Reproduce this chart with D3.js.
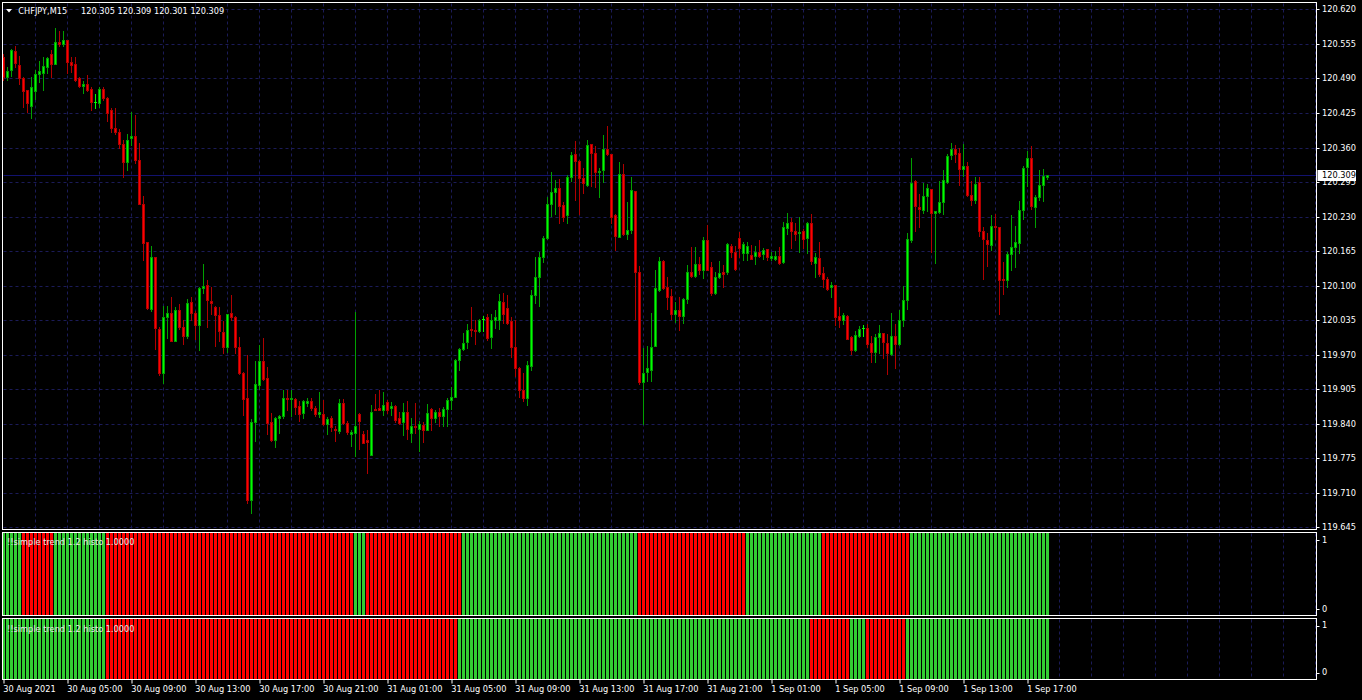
<!DOCTYPE html>
<html>
<head>
<meta charset="utf-8">
<script src="https://cdn.jsdelivr.net/npm/d3@7"></script>
<style>
html, body { margin: 0; padding: 0; background: #000; }
svg { display: block; }
</style>
</head>
<body>
<div id="chart"></div>
<script>
// ---- data ----
var symbol = "CHFJPY,M15",
    lastBarText = "120.305 120.309 120.301 120.309",
    bid = 120.309;

var opens = [120.530,120.492,120.506,120.541,120.515,120.490,120.468,120.439,120.467,120.498,120.501,120.511,120.536,120.518,120.559,120.555,120.562,120.521,120.517,120.490,
  120.476,120.479,120.471,120.445,120.443,120.471,120.453,120.431,120.397,120.390,120.366,120.332,120.377,120.382,120.337,120.254,120.182,120.056,120.154,120.019,
  119.935,120.041,120.049,119.996,120.054,120.022,120.005,120.069,120.049,120.025,120.095,120.101,120.071,120.060,120.044,120.012,119.984,120.049,120.041,119.984,
  119.935,119.888,119.696,119.844,119.912,119.958,119.926,119.844,119.810,119.850,119.854,119.889,119.887,119.887,119.874,119.860,119.879,119.883,119.870,119.858,
  119.858,119.839,119.850,119.831,119.826,119.879,119.842,119.820,119.823,119.858,119.820,119.809,119.782,119.868,119.869,119.866,119.880,119.870,119.874,119.850,
  119.844,119.863,119.823,119.836,119.831,119.838,119.828,119.868,119.850,119.863,119.854,119.868,119.884,119.890,119.960,119.980,119.994,120.019,120.017,120.014,
  120.038,120.041,120.003,120.035,120.036,120.069,120.057,120.034,119.984,119.944,119.903,119.888,119.949,120.082,120.116,120.154,120.189,120.253,120.276,120.283,
  120.251,120.232,120.304,120.347,120.334,120.302,120.289,120.366,120.350,120.313,120.317,120.358,120.348,120.232,120.192,120.310,120.197,120.204,120.278,120.126,
  119.919,119.938,119.942,119.987,120.091,120.147,120.097,120.080,120.047,120.054,120.043,120.074,120.125,120.119,120.141,120.130,120.186,120.135,120.087,120.117,
  120.125,120.125,120.175,120.164,120.189,120.162,120.161,120.157,120.155,120.164,120.159,120.168,120.152,120.151,120.155,120.145,120.208,120.220,120.203,120.199,
  120.202,120.189,120.218,120.143,120.152,120.124,120.113,120.097,120.101,120.043,120.036,120.043,120.003,119.979,120.006,120.020,120.020,119.992,119.975,120.003,
  120.010,119.992,119.971,120.005,119.991,120.036,120.073,120.185,120.297,120.248,120.243,120.269,120.282,120.237,120.238,120.257,120.296,120.345,120.358,120.350,
  120.320,120.325,120.271,120.262,120.296,120.202,120.185,120.176,120.213,120.211,120.113,120.110,120.159,120.173,120.180,120.243,120.323,120.340,120.248,120.266,
  120.289,120.305];

var highs = [120.536,120.512,120.546,120.551,120.533,120.492,120.469,120.493,120.506,120.523,120.530,120.531,120.543,120.585,120.579,120.579,120.563,120.530,120.530,120.492,
  120.485,120.497,120.474,120.461,120.474,120.474,120.455,120.434,120.434,120.395,120.375,120.385,120.426,120.422,120.369,120.269,120.182,120.175,120.154,120.022,
  120.062,120.062,120.078,120.060,120.066,120.036,120.075,120.078,120.052,120.097,120.141,120.111,120.097,120.062,120.060,120.033,120.047,120.082,120.043,120.003,
  119.938,119.970,119.849,119.958,119.989,120.001,119.947,119.860,119.852,119.856,119.903,119.903,119.903,119.888,119.882,119.884,119.888,119.888,119.874,119.900,
  119.884,119.852,119.855,119.835,119.887,119.887,119.845,119.828,120.050,119.860,119.826,119.828,119.875,119.896,119.904,119.900,119.884,119.880,119.875,119.863,
  119.879,119.882,119.850,119.879,119.845,119.843,119.877,119.869,119.865,119.869,119.871,119.888,119.909,119.961,119.982,120.011,120.028,120.060,120.035,120.038,
  120.043,120.046,120.047,120.054,120.085,120.087,120.082,120.040,120.036,119.947,119.935,119.958,120.092,120.154,120.164,120.194,120.266,120.313,120.299,120.301,
  120.257,120.308,120.351,120.372,120.336,120.322,120.374,120.367,120.363,120.322,120.383,120.401,120.348,120.234,120.332,120.329,120.258,120.304,120.278,120.136,
  119.982,119.987,120.049,120.129,120.154,120.149,120.116,120.094,120.070,120.078,120.077,120.138,120.173,120.172,120.153,120.192,120.215,120.145,120.126,120.147,
  120.138,120.181,120.178,120.175,120.200,120.182,120.182,120.176,120.175,120.186,120.171,120.169,120.164,120.165,120.173,120.220,120.236,120.227,120.217,120.229,
  120.207,120.219,120.234,120.162,120.183,120.135,120.116,120.106,120.101,120.059,120.049,120.045,120.005,120.015,120.024,120.026,120.027,120.006,120.009,120.026,
  120.011,120.009,120.049,120.027,120.054,120.099,120.199,120.341,120.299,120.273,120.293,120.291,120.282,120.240,120.297,120.318,120.348,120.369,120.364,120.360,
  120.366,120.332,120.297,120.304,120.304,120.210,120.199,120.233,120.235,120.211,120.145,120.164,120.233,120.213,120.259,120.326,120.353,120.363,120.270,120.318,
  120.320,120.309];

var lows = [120.488,120.488,120.495,120.511,120.479,120.436,120.426,120.416,120.452,120.483,120.469,120.501,120.493,120.517,120.552,120.552,120.500,120.502,120.485,120.474,
  120.463,120.467,120.430,120.434,120.436,120.449,120.409,120.390,120.385,120.360,120.305,120.317,120.364,120.331,120.253,120.149,120.056,120.052,119.980,119.931,
  119.917,120.001,119.995,119.995,120.019,119.990,120.001,120.036,119.999,119.979,120.087,120.022,120.047,119.987,119.995,119.973,119.975,120.036,119.973,119.933,
  119.856,119.691,119.672,119.807,119.906,119.922,119.820,119.807,119.796,119.822,119.851,119.866,119.854,119.858,119.845,119.850,119.874,119.866,119.854,119.853,
  119.837,119.820,119.826,119.807,119.822,119.839,119.820,119.798,119.780,119.793,119.803,119.748,119.782,119.865,119.866,119.856,119.860,119.856,119.843,119.839,
  119.819,119.812,119.805,119.823,119.789,119.806,119.828,119.828,119.843,119.836,119.836,119.836,119.868,119.890,119.941,119.979,119.982,120.005,119.990,120.013,
  120.014,119.998,119.982,120.021,120.019,120.030,120.028,119.966,119.930,119.890,119.882,119.875,119.941,120.068,120.062,120.145,120.187,120.231,120.234,120.217,
  120.221,120.218,120.297,120.262,120.234,120.275,120.288,120.288,120.285,120.266,120.296,120.346,120.217,120.167,120.191,120.196,120.187,120.199,120.038,119.915,
  119.839,119.920,119.920,119.987,120.089,120.094,120.056,120.038,120.032,120.017,120.030,120.067,120.117,120.117,120.121,120.115,120.129,120.083,120.084,120.115,
  120.098,120.121,120.154,120.129,120.154,120.149,120.149,120.151,120.141,120.154,120.151,120.148,120.149,120.149,120.141,120.143,120.197,120.170,120.185,120.164,
  120.170,120.162,120.140,120.116,120.119,120.098,120.091,120.079,120.026,120.022,120.028,119.999,119.972,119.976,120.003,120.005,119.985,119.957,119.957,119.973,
  119.963,119.933,119.970,119.945,119.989,120.024,120.056,120.183,120.203,120.211,120.237,120.240,120.164,120.143,120.237,120.234,120.294,120.339,120.332,120.290,
  120.306,120.268,120.251,120.256,120.194,120.113,120.137,120.167,120.187,120.047,120.085,120.098,120.129,120.135,120.161,120.225,120.288,120.245,120.210,120.261,
  120.259,120.301];

var closes = [120.493,120.504,120.543,120.520,120.490,120.466,120.443,120.474,120.498,120.504,120.513,120.529,120.518,120.558,120.555,120.562,120.521,120.515,120.488,120.476,
  120.479,120.469,120.445,120.445,120.471,120.453,120.425,120.397,120.390,120.366,120.332,120.374,120.382,120.336,120.253,120.180,120.057,120.154,120.021,119.935,
  120.040,120.049,119.996,120.054,120.022,120.005,120.067,120.049,120.025,120.095,120.100,120.073,120.068,120.044,120.014,119.984,120.046,120.041,119.984,119.935,
  119.887,119.696,119.844,119.915,119.958,119.925,119.841,119.810,119.850,119.854,119.889,119.886,119.888,119.871,119.858,119.882,119.883,119.869,119.858,119.862,
  119.839,119.848,119.833,119.828,119.879,119.842,119.824,119.824,119.835,119.845,119.804,119.806,119.863,119.866,119.866,119.875,119.866,119.874,119.847,119.842,
  119.863,119.830,119.835,119.834,119.840,119.828,119.860,119.851,119.863,119.855,119.868,119.885,119.890,119.960,119.980,119.992,120.016,120.017,120.014,120.036,
  120.038,120.001,120.036,120.040,120.071,120.046,120.030,119.984,119.944,119.903,119.889,119.950,120.082,120.116,120.154,120.189,120.253,120.277,120.283,120.250,
  120.229,120.304,120.345,120.334,120.302,120.293,120.364,120.350,120.313,120.315,120.358,120.347,120.229,120.194,120.310,120.197,120.204,120.280,120.126,119.919,
  119.936,119.944,119.985,120.095,120.146,120.096,120.079,120.047,120.054,120.043,120.074,120.125,120.119,120.141,120.130,120.186,120.130,120.087,120.117,120.124,
  120.122,120.178,120.164,120.131,120.171,120.178,120.175,120.151,120.163,120.156,120.167,120.153,120.156,120.156,120.143,120.210,120.218,120.202,120.197,120.200,
  120.188,120.218,120.146,120.154,120.121,120.112,120.094,120.101,120.040,120.036,120.045,120.000,119.978,120.007,120.019,120.020,119.991,119.975,120.003,120.010,
  119.994,119.973,120.005,119.991,120.036,120.073,120.187,120.294,120.250,120.245,120.269,120.283,120.237,120.240,120.257,120.299,120.344,120.357,120.348,120.320,
  120.325,120.271,120.262,120.292,120.202,120.187,120.178,120.213,120.211,120.110,120.110,120.159,120.173,120.182,120.243,120.322,120.341,120.250,120.267,120.289,
  120.306,120.309];

var priceTicks = [120.620,120.555,120.490,120.425,120.360,120.295,120.230,120.165,120.100,120.035,119.970,119.905,119.840,119.775,119.710,119.645];

var labelBars = [0,16,32,48,64,80,96,112,128,144,160,176,192,208,224,240,256];
var timeLabels = ["30 Aug 2021","30 Aug 05:00","30 Aug 09:00","30 Aug 13:00","30 Aug 17:00","30 Aug 21:00",
  "31 Aug 01:00","31 Aug 05:00","31 Aug 09:00","31 Aug 13:00","31 Aug 17:00","31 Aug 21:00",
  "1 Sep 01:00","1 Sep 05:00","1 Sep 09:00","1 Sep 13:00","1 Sep 17:00"];

// indicator: runs of trend direction (1 up, -1 down) and their length in bars
var histoName = "!!simple trend 1.2 histo 1.0000";
var trendA_dir = [1,-1,1,-1,1,-1,1,-1,1,-1,1];
var trendA_len = [5,8,13,62,3,24,44,27,19,22,35];
var trendB_dir = [1,-1,1,-1,1,-1,1];
var trendB_len = [26,88,88,10,4,10,36];
var histoTicks = [1, 0];

// ---- layout ----
var width = 1362, height = 700;
var frame = {left: 2.5, right: 1316.5, top: 2.5, bottom: 529.5};
var panes = [
  {top: 532.5, bottom: 615.5, dir: trendA_dir, len: trendA_len, label1: 540, label0: 609, title: 542},
  {top: 618.5, bottom: 679.5, dir: trendB_dir, len: trendB_len, label1: 625.5, label0: 672.5, title: 629}
];

var bullWick = "#00a000", bullBody = "#00ff00",
    bearWick = "#b00000", bearBody = "#ff0000",
    gridColor = "#1b1b58", histUp = "#32cd32", histDown = "#ff0000";
var font = "'DejaVu Sans', Tahoma, sans-serif", fontSize = 8.2;

var svg = d3.select("#chart").append("svg")
  .attr("width", width)
  .attr("height", height)
  .style("background", "#000");

// bar index -> pixel centre (4px per M15 bar)
var x = d3.scaleLinear().domain([0, 1]).range([3.5, 7.5]);
var y = d3.scaleLinear().domain([119.645, 120.620]).range([527.3, 9.4]);

var bars = opens.map(function(o, i) {
  return {i: i, o: o, h: highs[i], l: lows[i], c: closes[i]};
});

var defs = svg.append("defs");
defs.append("clipPath").attr("id", "mainClip").append("rect")
  .attr("x", frame.left + 0.5).attr("y", frame.top + 0.5)
  .attr("width", frame.right - frame.left - 1).attr("height", frame.bottom - frame.top - 1);

// vertical grid every 2 hours, through price chart and both panes
var lastIdx = Math.floor(x.invert(frame.right));
var gridBars = d3.range(8, lastIdx + 1, 8);
function vGrid(top, bottom) {
  svg.append("g").selectAll("line").data(gridBars).enter().append("line")
    .attr("x1", function(d) { return x(d); })
    .attr("x2", function(d) { return x(d); })
    .attr("y1", top + 1).attr("y2", bottom)
    .attr("stroke", gridColor).attr("stroke-dasharray", "3,3");
}
vGrid(frame.top, frame.bottom);
panes.forEach(function(p) { vGrid(p.top, p.bottom); });

// horizontal grid
svg.append("g").selectAll("line").data(priceTicks).enter().append("line")
  .attr("x1", frame.left + 1).attr("x2", frame.right)
  .attr("y1", function(d) { return Math.round(y(d)) + 0.5; })
  .attr("y2", function(d) { return Math.round(y(d)) + 0.5; })
  .attr("stroke", gridColor).attr("stroke-dasharray", "3,3");

// bid line
var bidY = Math.round(y(bid)) + 0.5;
svg.append("line")
  .attr("x1", frame.left + 1).attr("x2", frame.right)
  .attr("y1", bidY).attr("y2", bidY)
  .attr("stroke", "#12126e");

// candles
var candles = svg.append("g").attr("clip-path", "url(#mainClip)")
  .selectAll("g").data(bars).enter().append("g");

candles.append("rect") // wick
  .attr("x", function(d) { return x(d.i) - 0.5; })
  .attr("width", 1)
  .attr("y", function(d) { return Math.round(y(d.h)); })
  .attr("height", function(d) { return Math.round(y(d.l)) - Math.round(y(d.h)) + 1; })
  .attr("fill", function(d) { return d.o === d.c ? bullBody : (d.c > d.o ? bullWick : bearWick); });

candles.append("rect") // body outline
  .attr("x", function(d) { return x(d.i) - 1.5; })
  .attr("width", 3)
  .attr("y", function(d) { return Math.round(y(Math.max(d.o, d.c))); })
  .attr("height", function(d) { return Math.round(y(Math.min(d.o, d.c))) - Math.round(y(Math.max(d.o, d.c))) + 1; })
  .attr("fill", function(d) { return d.o === d.c ? bullBody : (d.c > d.o ? bullWick : bearWick); });

candles.filter(function(d) {
    return Math.round(y(Math.min(d.o, d.c))) - Math.round(y(Math.max(d.o, d.c))) > 1;
  })
  .append("rect") // body fill
  .attr("x", function(d) { return x(d.i) - 0.5; })
  .attr("width", 1)
  .attr("y", function(d) { return Math.round(y(Math.max(d.o, d.c))) + 1; })
  .attr("height", function(d) { return Math.round(y(Math.min(d.o, d.c))) - Math.round(y(Math.max(d.o, d.c))) - 1; })
  .attr("fill", function(d) { return d.c > d.o ? bullBody : bearBody; });

// indicator histograms
panes.forEach(function(p) {
  var dirs = [];
  p.dir.forEach(function(dv, k) {
    for (var j = 0; j < p.len[k]; j++) dirs.push(dv);
  });
  var hy = d3.scaleLinear().domain([0, 1]).range([p.bottom, p.top + 0.5]);
  svg.append("g").selectAll("rect").data(dirs).enter().append("rect")
    .attr("x", function(d, i) { return x(i) - 1.5; })
    .attr("width", 3)
    .attr("y", hy(1))
    .attr("height", hy(0) - hy(1))
    .attr("fill", function(d) { return d > 0 ? histUp : histDown; });

  svg.append("text")
    .attr("x", 7).attr("y", p.title).attr("dy", "0.35em")
    .attr("fill", "#e6e6e6")
    .style("font-family", font).style("font-size", fontSize + "px")
    .text(histoName);

  var ticks = svg.append("g");
  histoTicks.forEach(function(v) {
    var ty = v === 1 ? p.label1 : p.label0;
    ticks.append("line")
      .attr("x1", frame.right).attr("x2", frame.right + 3)
      .attr("y1", Math.round(ty) + 0.5).attr("y2", Math.round(ty) + 0.5)
      .attr("stroke", "#fff");
    ticks.append("text")
      .attr("x", 1322).attr("y", ty).attr("dy", "0.35em")
      .attr("fill", "#fff")
      .style("font-family", font).style("font-size", fontSize + "px")
      .text(v);
  });
});

// frames
function frameRect(top, bottom) {
  svg.append("rect")
    .attr("x", frame.left).attr("y", top)
    .attr("width", frame.right - frame.left).attr("height", bottom - top)
    .attr("fill", "none").attr("stroke", "#fff");
}
frameRect(frame.top, frame.bottom);
panes.forEach(function(p) { frameRect(p.top, p.bottom); });

// price axis
var yAxis = svg.append("g")
  .attr("transform", "translate(" + frame.right + ",0)")
  .call(d3.axisRight(y).tickValues(priceTicks).tickSize(3).tickPadding(2.5)
    .tickFormat(d3.format(".3f")));
yAxis.select(".domain").remove();
yAxis.selectAll(".tick line").attr("stroke", "#fff")
  .attr("transform", function() { return "translate(0," + 0 + ")"; });
yAxis.selectAll(".tick").attr("transform", function(d) {
  return "translate(0," + (Math.round(y(d)) + 0.5) + ")";
});
yAxis.selectAll("text")
  .attr("fill", "#fff")
  .style("font-family", font).style("font-size", fontSize + "px");

// current price box
svg.append("rect")
  .attr("x", frame.right + 1).attr("y", bidY - 5.5)
  .attr("width", 38.5).attr("height", 11)
  .attr("fill", "#fff");
svg.append("text")
  .attr("x", 1322).attr("y", bidY).attr("dy", "0.35em")
  .attr("fill", "#000")
  .style("font-family", font).style("font-size", fontSize + "px")
  .text(d3.format(".3f")(bid));

// time axis
var xAxis = svg.append("g")
  .attr("transform", "translate(0," + panes[1].bottom + ")")
  .call(d3.axisBottom(x).tickValues(labelBars).tickSize(4)
    .tickFormat(function(d, i) { return timeLabels[i]; }));
xAxis.select(".domain").remove();
xAxis.selectAll(".tick line").attr("stroke", "#fff");
xAxis.selectAll("text")
  .attr("text-anchor", "start")
  .attr("x", -0.8).attr("y", 9.5).attr("dy", "0.35em")
  .attr("fill", "#fff")
  .style("font-family", font).style("font-size", fontSize + "px");

// header
svg.append("path")
  .attr("d", "M6,9 L12,9 L9,12.5 Z")
  .attr("fill", "#fff");
svg.append("text")
  .attr("x", 18.3).attr("y", 10.7).attr("dy", "0.35em")
  .attr("fill", "#fff")
  .style("font-family", font).style("font-size", fontSize + "px")
  .text(symbol);
svg.append("text")
  .attr("x", 81).attr("y", 10.7).attr("dy", "0.35em")
  .attr("fill", "#fff")
  .style("font-family", font).style("font-size", fontSize + "px")
  .text(lastBarText);
</script>
</body>
</html>
